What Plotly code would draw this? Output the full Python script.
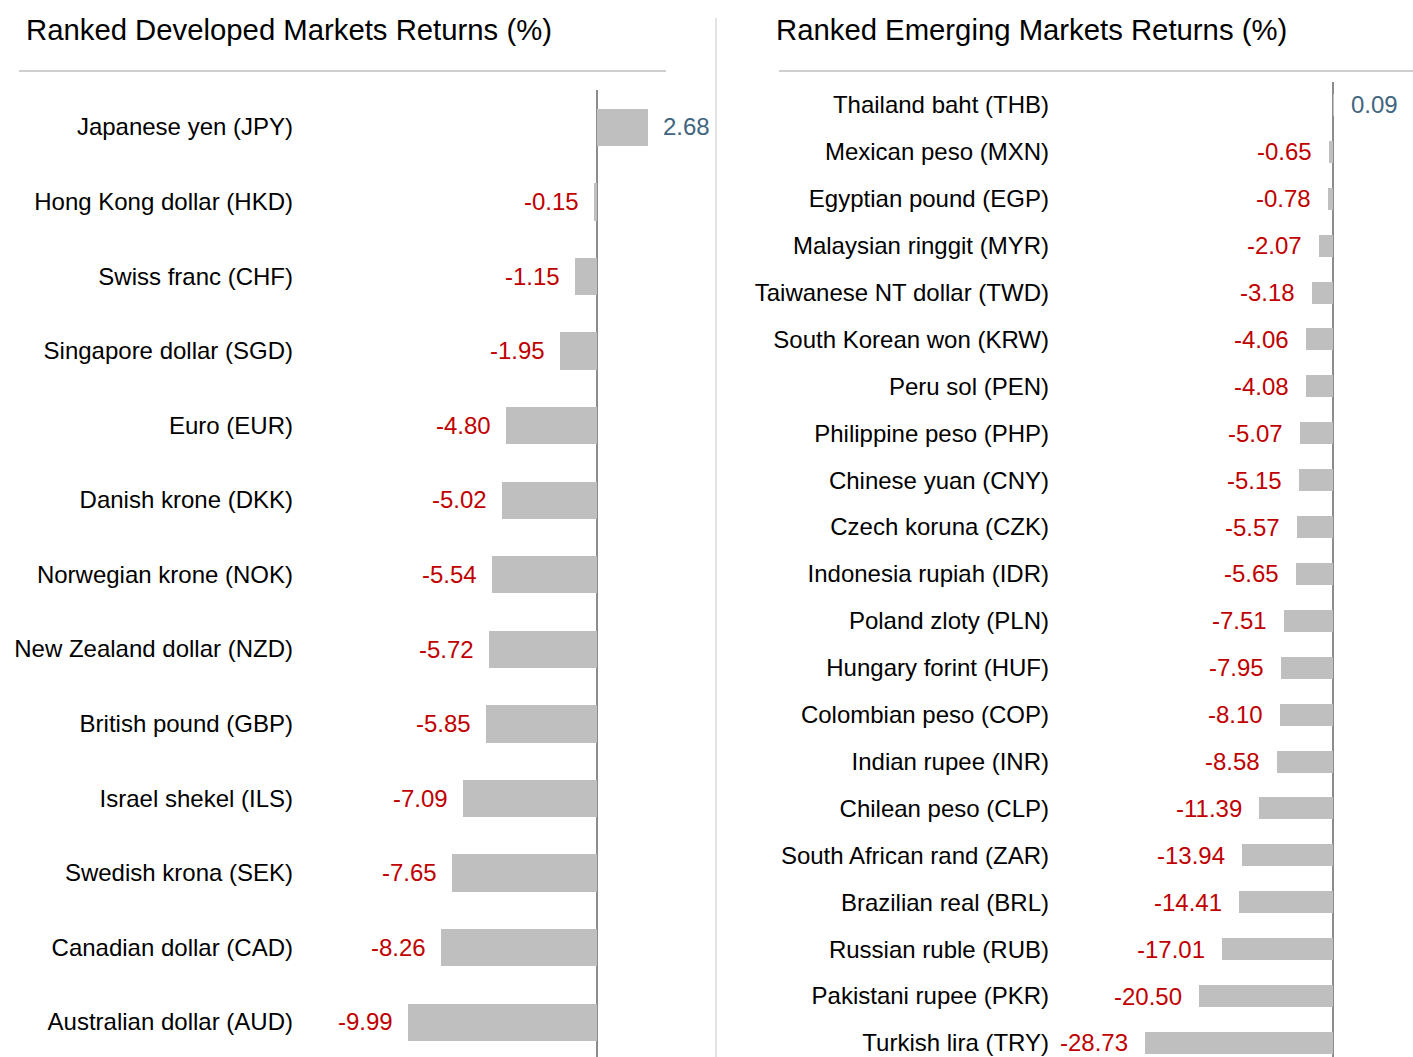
import plotly.graph_objects as go

W, H = 1413, 1057

dev_names = ["Japanese yen (JPY)", "Hong Kong dollar (HKD)", "Swiss franc (CHF)",
             "Singapore dollar (SGD)", "Euro (EUR)", "Danish krone (DKK)",
             "Norwegian krone (NOK)", "New Zealand dollar (NZD)", "British pound (GBP)",
             "Israel shekel (ILS)", "Swedish krona (SEK)", "Canadian dollar (CAD)",
             "Australian dollar (AUD)"]
dev_vals = [2.68, -0.15, -1.15, -1.95, -4.80, -5.02, -5.54, -5.72, -5.85,
            -7.09, -7.65, -8.26, -9.99]

em_names = ["Thailand baht (THB)", "Mexican peso (MXN)", "Egyptian pound (EGP)",
            "Malaysian ringgit (MYR)", "Taiwanese NT dollar (TWD)", "South Korean won (KRW)",
            "Peru sol (PEN)", "Philippine peso (PHP)", "Chinese yuan (CNY)",
            "Czech koruna (CZK)", "Indonesia rupiah (IDR)", "Poland zloty (PLN)",
            "Hungary forint (HUF)", "Colombian peso (COP)", "Indian rupee (INR)",
            "Chilean peso (CLP)", "South African rand (ZAR)", "Brazilian real (BRL)",
            "Russian ruble (RUB)", "Pakistani rupee (PKR)", "Turkish lira (TRY)"]
em_vals = [0.09, -0.65, -0.78, -2.07, -3.18, -4.06, -4.08, -5.07, -5.15, -5.57,
           -5.65, -7.51, -7.95, -8.10, -8.58, -11.39, -13.94, -14.41, -17.01,
           -20.50, -28.73]

titles = ["Ranked Developed Markets Returns (%)", "Ranked Emerging Markets Returns (%)"]

FONT = "Liberation Sans, Arial, sans-serif"
BAR = "#bfbfbf"
RED = "#c00000"
BLUE = "#41657f"

def px(x):
    return x / W

def py(y):
    return 1 - y / H

fig = go.Figure()

dev_pos = list(range(len(dev_names)))
em_pos = list(range(len(em_names)))

fig.add_trace(go.Bar(x=dev_vals, y=dev_pos, orientation="h", width=0.5,
                     marker=dict(color=BAR, line=dict(width=0)),
                     xaxis="x", yaxis="y", hoverinfo="skip", showlegend=False))
fig.add_trace(go.Bar(x=em_vals, y=em_pos, orientation="h", width=0.47,
                     marker=dict(color=BAR, line=dict(width=0)),
                     xaxis="x2", yaxis="y2", hoverinfo="skip", showlegend=False))

annotations = []
for vals, xr, yr, gap in [(dev_vals, "x", "y", 13), (em_vals, "x2", "y2", 15)]:
    for i, v in enumerate(vals):
        pos = v >= 0
        annotations.append(dict(
            x=v, y=i, xref=xr, yref=yr, text=f"{v:.2f}", showarrow=False,
            xanchor="left" if pos else "right", xshift=gap if pos else -gap,
            font=dict(family=FONT, size=24, color=BLUE if pos else RED)))

annotations.append(dict(x=px(24), y=py(30), xref="paper", yref="paper", text=titles[0],
                        showarrow=False, xanchor="left", yanchor="middle",
                        font=dict(family=FONT, size=29.3, color="#000000")))
annotations.append(dict(x=px(774), y=py(30), xref="paper", yref="paper", text=titles[1],
                        showarrow=False, xanchor="left", yanchor="middle",
                        font=dict(family=FONT, size=29.3, color="#000000")))

shapes = [
    dict(type="line", xref="paper", yref="paper", x0=px(19), x1=px(666), y0=py(71), y1=py(71),
         line=dict(color="#bfbfbf", width=1.5)),
    dict(type="line", xref="paper", yref="paper", x0=px(779), x1=px(1413), y0=py(71), y1=py(71),
         line=dict(color="#bfbfbf", width=1.5)),
    dict(type="line", xref="paper", yref="paper", x0=px(716), x1=px(716), y0=py(18), y1=0,
         line=dict(color="#d9d9d9", width=1.5)),
]

axis_common = dict(showgrid=False, showticklabels=False, zeroline=True,
                   zerolinecolor="#8c8c8c", zerolinewidth=2, fixedrange=True)

fig.update_layout(
    width=W, height=H,
    margin=dict(l=0, r=0, t=0, b=0),
    paper_bgcolor="white", plot_bgcolor="white",
    bargap=0,
    xaxis=dict(domain=[px(300), px(715)], range=[-15.70, 6.24], anchor="y", **axis_common),
    yaxis=dict(domain=[0, py(89.7)], range=[12.47, -0.5], anchor="x",
               tickmode="array", tickvals=dev_pos, ticktext=dev_names,
               showgrid=False, zeroline=False, ticks="", showline=False,
               ticklabelstandoff=6,
               tickfont=dict(family=FONT, size=24, color="#000000")),
    xaxis2=dict(domain=[px(1056), 1], range=[-42.35, 12.23], anchor="y2", **axis_common),
    yaxis2=dict(domain=[0, py(82)], range=[20.30, -0.49], anchor="x2",
                tickmode="array", tickvals=em_pos, ticktext=em_names,
                showgrid=False, zeroline=False, ticks="", showline=False,
                ticklabelstandoff=6,
                tickfont=dict(family=FONT, size=24, color="#000000")),
    annotations=annotations,
    shapes=shapes,
)

fig.write_html("out.html")
